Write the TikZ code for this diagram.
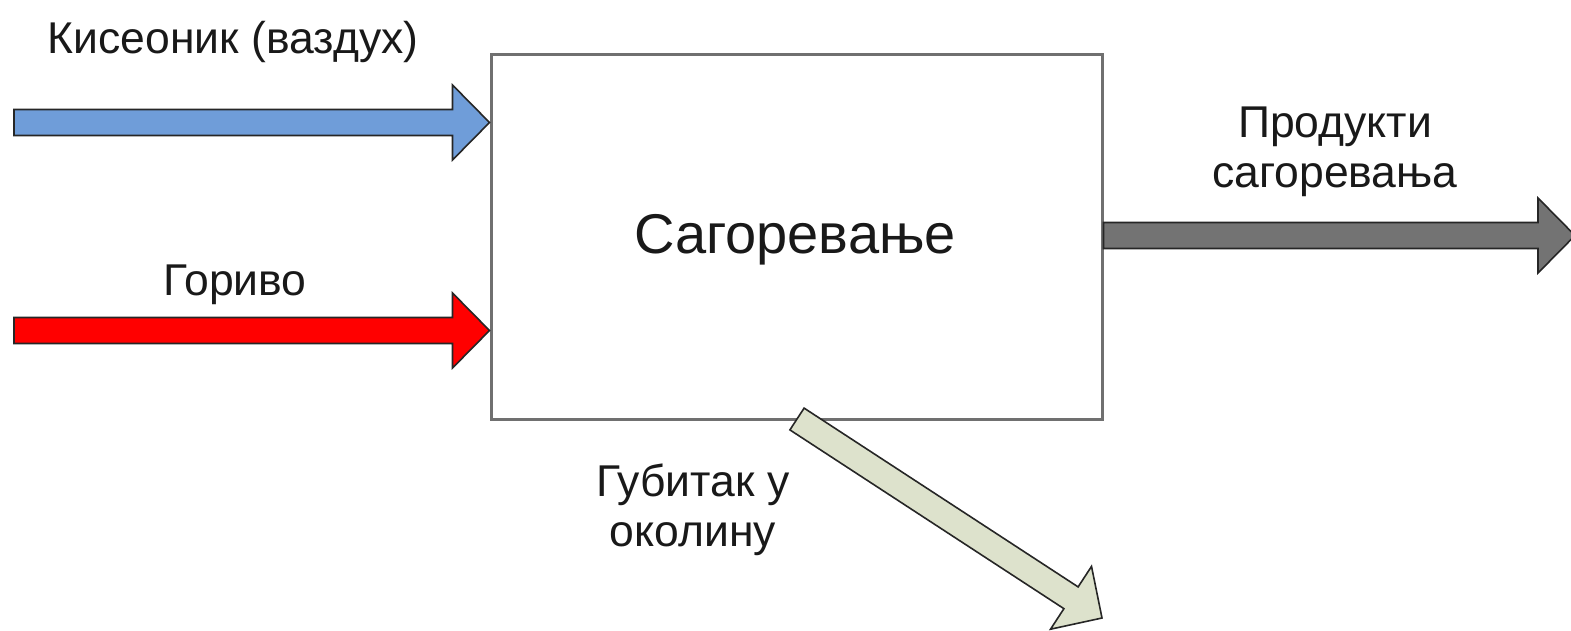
\documentclass[tikz,border=0pt]{standalone}
\usepackage{fontspec}
\setmainfont{Liberation Sans}
\usetikzlibrary{calc}

\definecolor{airblue}{RGB}{111,157,217}
\definecolor{fuelred}{RGB}{255,0,0}
\definecolor{prodgray}{RGB}{115,115,115}
\definecolor{lossgreen}{RGB}{221,226,204}
\definecolor{boxline}{RGB}{112,112,112}

% block arrow from #1 to #2, filled with #3; shaft half-width 13, head half-width 37.5, head length 37
\newcommand\flowarrow[3]{%
  \coordinate (#1-#2-q) at ($(#2)!37pt!(#1)$);
  \filldraw[flow, fill=#3]
    ($(#1)!13pt!90:(#2)$) -- ($(#1-#2-q)!13pt!90:(#2)$) -- ($(#1-#2-q)!37.5pt!90:(#2)$)
    -- (#2)
    -- ($(#1-#2-q)!37.5pt!-90:(#2)$) -- ($(#1-#2-q)!13pt!-90:(#2)$) -- ($(#1)!13pt!-90:(#2)$)
    -- cycle;
}

\begin{document}
\begin{tikzpicture}[x=1pt, y=-1pt,
  flow/.style={draw=black!85, line width=1.6pt, line join=miter},
  label/.style={font=\fontsize{44.5}{50}\selectfont, text=black!90, inner sep=0pt, anchor=base, align=center},
  process/.style={draw=boxline, line width=3pt, fill=white, inner sep=0pt}]
  \useasboundingbox (0,0) rectangle (1571,630);
  \clip (0,0) rectangle (1571,630);

  % combustion box
  \node[process, minimum width=611pt, minimum height=365pt] (box) at (796.5,236.5) {};
  \node[label, font=\fontsize{56}{60}\selectfont] (boxtext) at (795,253) {Сагоревање};

  % end points of the flows
  \coordinate (airin) at (14,122.5);
  \coordinate (airtip) at (box.west |- airin);
  \coordinate (fuelin) at (14,330.5);
  \coordinate (fueltip) at (box.west |- fuelin);
  \coordinate (prodout) at (box.east |- 0,235.5);
  \coordinate (prodtip) at (1575,235.5);
  \coordinate (losstail) at (797,419);
  \coordinate (losstip) at (1102,618);

  \flowarrow{airin}{airtip}{airblue}
  \flowarrow{fuelin}{fueltip}{fuelred}
  \flowarrow{prodout}{prodtip}{prodgray}
  \flowarrow{losstail}{losstip}{lossgreen}

  % labels (base anchor of a two-line label sits on its last line)
  \node[label] (airlabel) at (233,53) {Кисеоник (ваздух)};
  \node[label] (fuellabel) at (235,295) {Гориво};
  \node[label] (prodlabel) at (1335,187) {Продукти\\сагоревања};
  \node[label] (losslabel) at (693,546) {Губитак у\\околину};
\end{tikzpicture}
\end{document}
